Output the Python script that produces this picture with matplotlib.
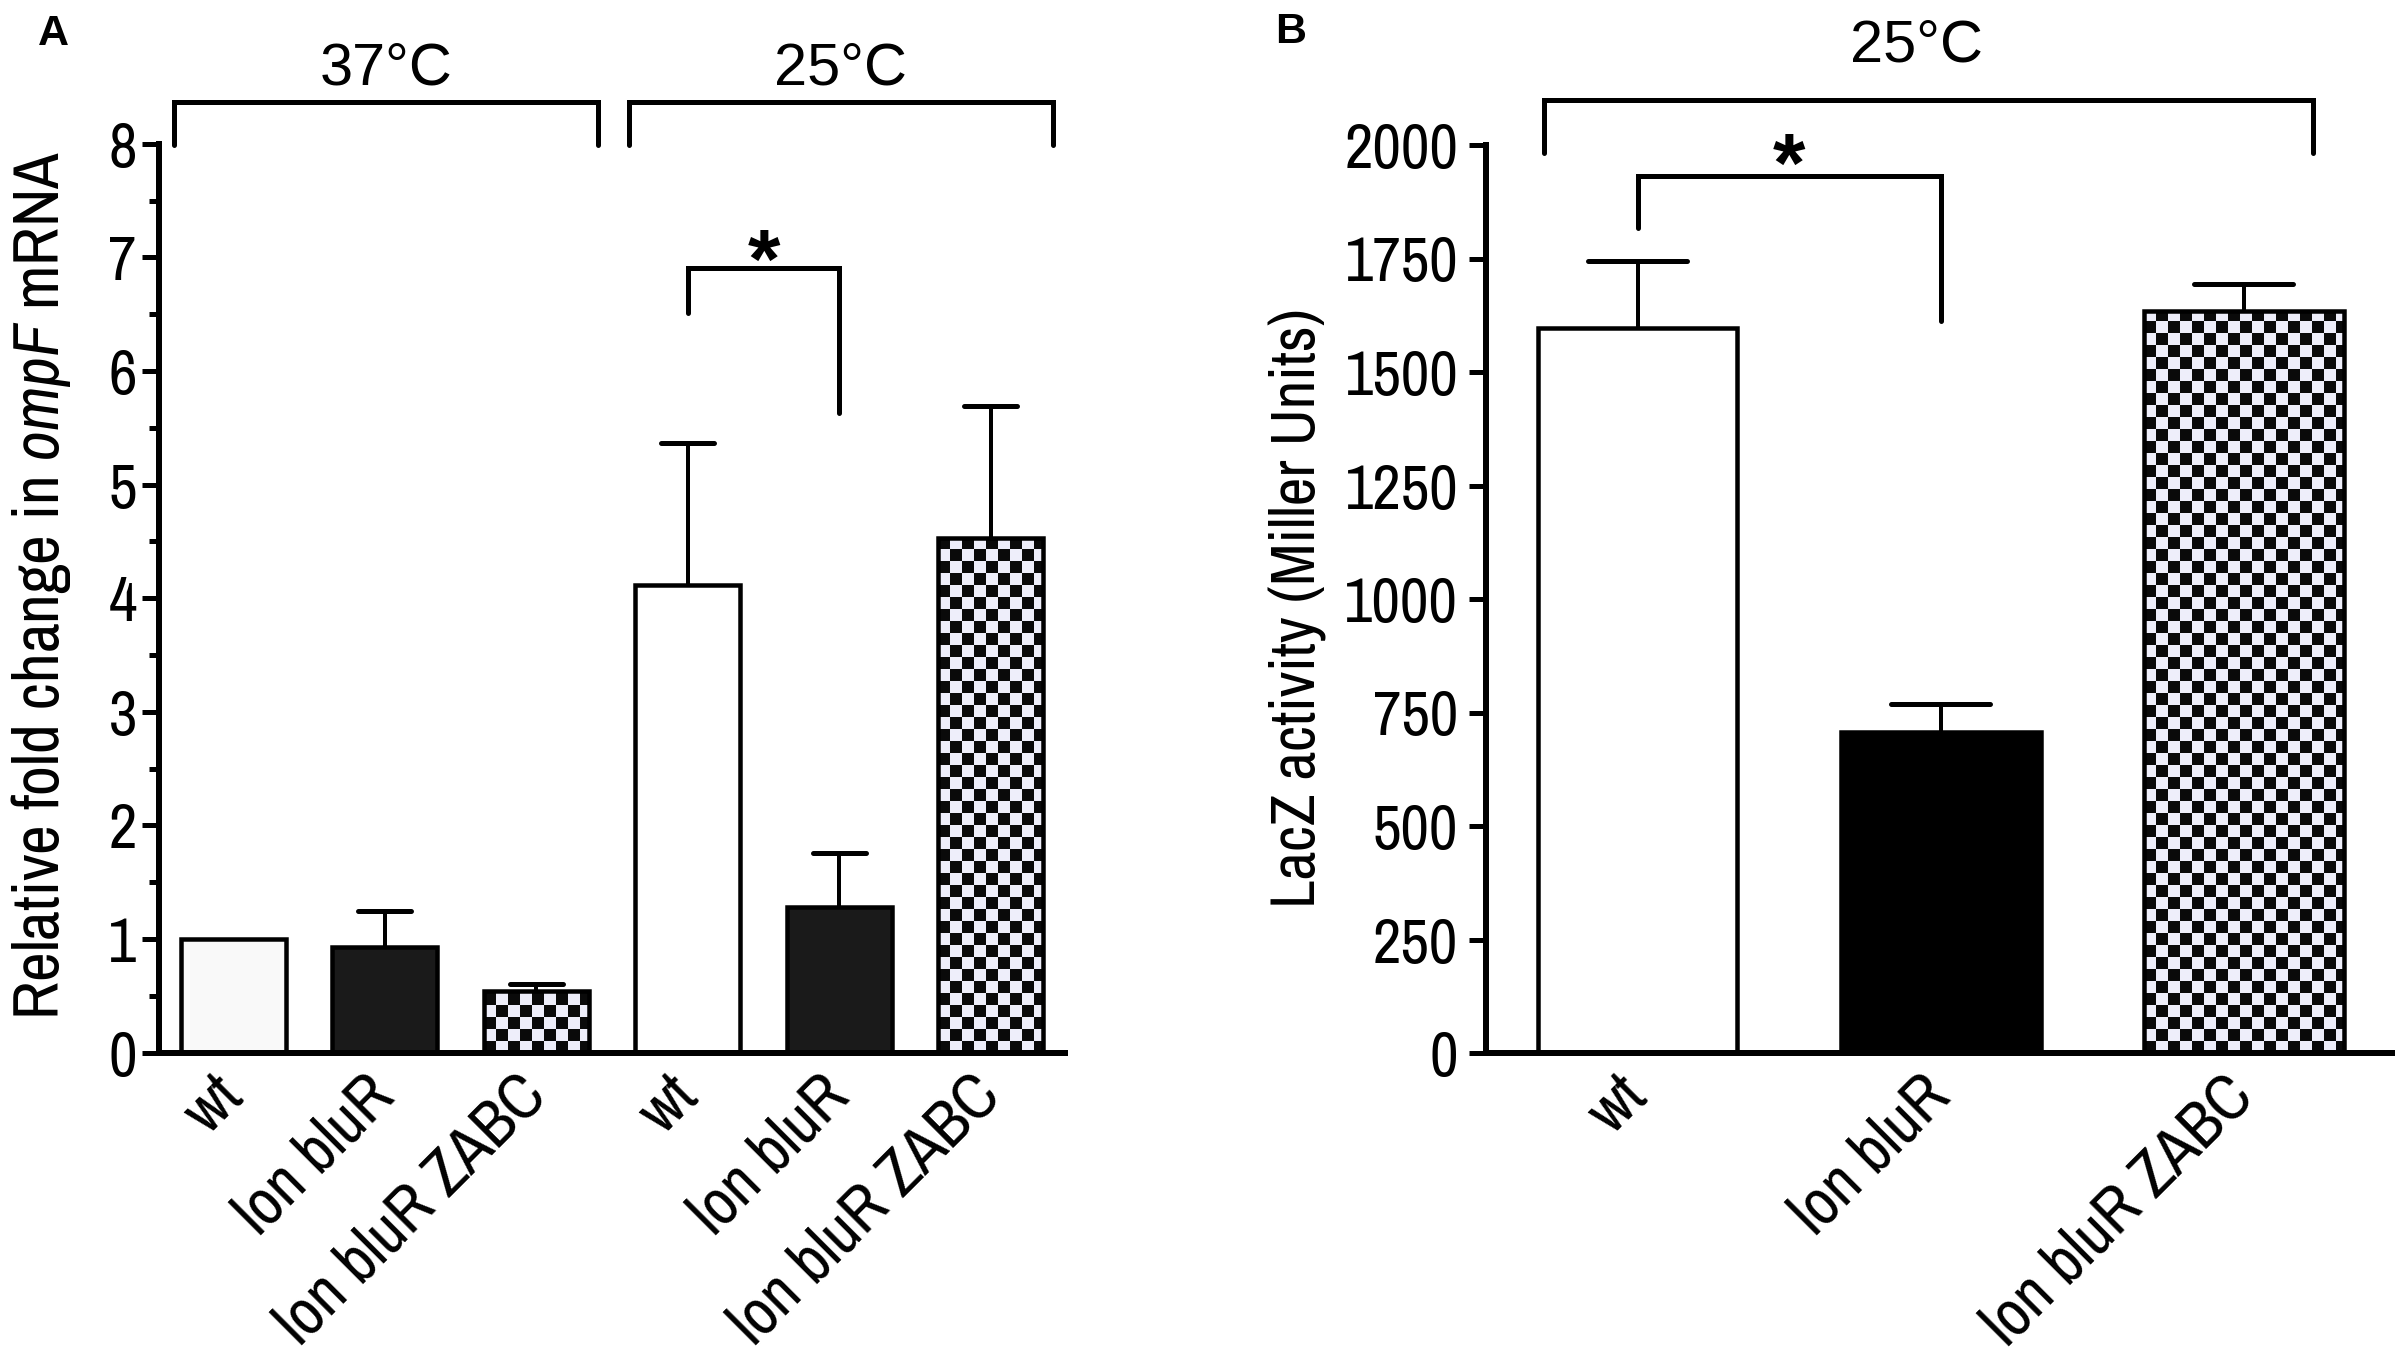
import numpy as np
import matplotlib
matplotlib.use("Agg")
import matplotlib.pyplot as plt
from matplotlib import font_manager as fm
from matplotlib.font_manager import FontProperties
from matplotlib.ticker import MultipleLocator
from matplotlib.colors import ListedColormap

# ---------------- data ----------------
strains = ["wt", "lon bluR", "lon bluR ZABC"]
temps_a = ["37°C", "25°C"]
a_mean_37 = [1.00, 0.93, 0.54]
a_err_37 = [0.00, 0.32, 0.06]
a_mean_25 = [4.12, 1.28, 4.53]
a_err_25 = [1.25, 0.48, 1.16]
temp_b = "25°C"
b_mean = [1597, 708, 1634]
b_err = [148, 61, 60]
a_yticks = [0, 1, 2, 3, 4, 5, 6, 7, 8]
b_yticks = [0, 250, 500, 750, 1000, 1250, 1500, 1750, 2000]
ylabel_a = "Relative fold change in $\\mathit{ompF}$ mRNA"
ylabel_b = "LacZ activity (Miller Units)"
# significance brackets: (left leg bottom, bracket top, right leg bottom)
a_sig = (6.51, 6.91, 5.63)
b_sig = (1818, 1932, 1613)

# ---------------- fonts ----------------
names = {f.name for f in fm.fontManager.ttflist}
NARROW = "Liberation Sans"
for cand in ("Liberation Sans Narrow", "Arial Narrow", "Archivo Narrow",
             "Roboto Condensed", "PT Sans Narrow"):
    if cand in names:
        NARROW = cand
        break

plt.rcParams["font.family"] = ["Liberation Sans", "DejaVu Sans"]
plt.rcParams["mathtext.fontset"] = "custom"
plt.rcParams["mathtext.rm"] = NARROW
plt.rcParams["mathtext.it"] = NARROW + ":italic"
NFP = FontProperties(family=[NARROW, "DejaVu Sans"])
RFP = FontProperties(family=["Liberation Sans", "DejaVu Sans"])
BFP = FontProperties(family=["Liberation Sans", "DejaVu Sans"], weight="bold")

PX = 0.72  # points per pixel at dpi 100
EDGE = 4.5 * PX
SPINE = 6 * PX
STEM = 4 * PX
CAPW = 5 * PX
BRK = 5 * PX

fig = plt.figure(figsize=(24, 13.65), dpi=100)
W, H = 2400, 1365
renderer = fig.canvas.get_renderer()

def fit(s, fp, target_px, ismath=False):
    p = fp.copy()
    p.set_size(40)
    w, _, _ = renderer.get_text_width_height_descent(s, p, ismath=ismath)
    return 40 * target_px / w

def fp_size(fp, size):
    p = fp.copy()
    p.set_size(size)
    return p

ytick_fs = fit("2000", NFP, 114)
xtick_fs = fit("lon bluR ZABC", NFP, 352)
ylab_a_fs = fit(ylabel_a, NFP, 870, ismath=True)
ylab_b_fs = fit(ylabel_b, NFP, 600)
temp_fs = fit("37°C", RFP, 133)

axA = fig.add_axes([159 / W, 1 - 1052.6 / H, 906 / W, 908.8 / H])
axB = fig.add_axes([1486 / W, 1 - 1053 / H, 906 / W, 908 / H])

def checker(ax, patch, sq_px=12):
    inv = ax.transData.inverted()
    x0d, y0d = inv.transform((0, 0))
    x1d, y1d = inv.transform((sq_px, sq_px))
    sx, sy = x1d - x0d, y1d - y0d
    bx, by = patch.get_x(), patch.get_y()
    bw, bh = patch.get_width(), patch.get_height()
    nx = int(np.ceil(bw / sx)) + 1
    ny = int(np.ceil(bh / sy)) + 1
    arr = np.add.outer(np.arange(ny), np.arange(nx)) % 2
    cmap = ListedColormap(["#0a0a0a", "#eeeefa"])
    im = ax.imshow(arr, cmap=cmap, extent=(bx, bx + nx * sx, by, by + ny * sy),
                   origin="lower", interpolation="nearest", aspect="auto", zorder=1.5)
    im.set_clip_path(patch)

def draw_panel(ax, pos, means, errs, faces, checks, width, cap_hw, xlim, ylim):
    ax.set_xlim(*xlim)
    ax.set_ylim(*ylim)
    bars = ax.bar(pos, means, width, color=faces, edgecolor="black",
                  linewidth=EDGE, zorder=2)
    for b, c in zip(bars, checks):
        if c:
            b.set_facecolor("none")
            checker(ax, b)
    for x, m, e in zip(pos, means, errs):
        if e > 0:
            ax.vlines(x, m, m + e, color="black", lw=STEM, zorder=3)
            ax.hlines(m + e, x - cap_hw, x + cap_hw, color="black", lw=CAPW,
                      capstyle="round", zorder=3)
    ax.set_xlim(*xlim)
    ax.set_ylim(*ylim)
    for s in ["top", "right"]:
        ax.spines[s].set_visible(False)
    for s in ["left", "bottom"]:
        ax.spines[s].set_linewidth(SPINE)

def bracket(ax, x0, x1, y_top, y_l, y_r):
    ax.plot([x0, x0, x1, x1], [y_l, y_top, y_top, y_r], color="black", lw=BRK,
            clip_on=False, solid_capstyle="round", solid_joinstyle="miter", zorder=4)

def style_axis(ax, yticks, pos, labels, ypad):
    ax.set_yticks(yticks, labels=[str(v) for v in yticks])
    for t in ax.get_yticklabels():
        t.set_fontproperties(fp_size(NFP, ytick_fs))
    ax.tick_params(axis="y", which="major", length=12, width=3.6, pad=ypad)
    ax.set_xticks(pos, labels=labels, rotation=45, ha="right", va="center",
                  rotation_mode="anchor")
    for t in ax.get_xticklabels():
        t.set_fontproperties(fp_size(NFP, xtick_fs))
    ax.tick_params(axis="x", length=0, pad=24)

# ---------------- Panel A ----------------
posA = np.arange(6)
meansA = a_mean_37 + a_mean_25
errsA = a_err_37 + a_err_25
facesA = ["#f9f9f9", "#1a1a1a", "none", "white", "#1a1a1a", "none"]
checksA = [False, False, True, False, False, True]
draw_panel(axA, posA, meansA, errsA, facesA, checksA, 0.69, 0.175, (-0.49, 5.49), (0, 8))
style_axis(axA, a_yticks, posA, strains * 2, 4)
axA.yaxis.set_minor_locator(MultipleLocator(0.5))
axA.tick_params(axis="y", which="minor", length=7, width=3.6)
axA.set_ylabel(ylabel_a, fontproperties=fp_size(NFP, ylab_a_fs))
axA.yaxis.set_label_coords(-0.095, 0.5145)

for g, t in enumerate(temps_a):
    x0 = posA[3 * g] - 0.39
    x1 = posA[3 * g + 2] + 0.41
    bracket(axA, x0, x1, 8.37, 7.99, 7.99)
    axA.text((x0 + x1) / 2, 8.52, t, ha="center", va="baseline",
             fontproperties=fp_size(RFP, temp_fs), clip_on=False)
bracket(axA, posA[3], posA[4], a_sig[1], a_sig[0], a_sig[2])
axA.text((posA[3] + posA[4]) / 2, a_sig[1] - 0.18, "*", ha="center", va="baseline",
         fontproperties=fp_size(BFP, 60))

# ---------------- Panel B ----------------
posB = np.arange(3)
facesB = ["white", "black", "none"]
checksB = [False, False, True]
draw_panel(axB, posB, b_mean, b_err, facesB, checksB, 0.66, 0.162, (-0.5, 2.49), (0, 2000))
style_axis(axB, b_yticks, posB, strains, 8)
axB.set_ylabel(ylabel_b, fontproperties=fp_size(NFP, ylab_b_fs))
axB.yaxis.set_label_coords(-0.176, 0.49)

bracket(axB, posB[0] - 0.31, posB[2] + 0.23, 2100, 1983, 1983)
axB.text(0.92, 2183, temp_b, ha="center", va="baseline",
         fontproperties=fp_size(RFP, temp_fs), clip_on=False)
bracket(axB, posB[0], posB[1], b_sig[1], b_sig[0], b_sig[2])
axB.text((posB[0] + posB[1]) / 2, b_sig[1] - 35, "*", ha="center", va="baseline",
         fontproperties=fp_size(BFP, 60))

# panel letters
fig.text(38 / W, 1 - 45 / H, "A", fontproperties=fp_size(BFP, 31), ha="left", va="baseline")
fig.text(1275 / W, 1 - 43 / H, "B", fontproperties=fp_size(BFP, 31), ha="left", va="baseline")

fig.savefig("out.png", dpi=100, facecolor="white")
